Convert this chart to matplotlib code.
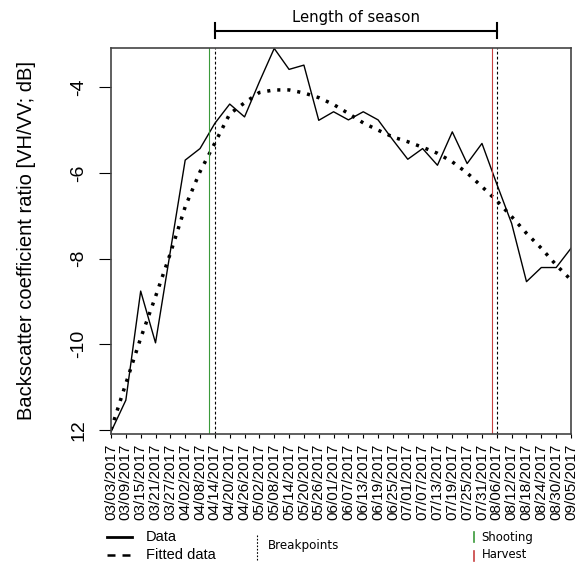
import numpy as np
import pandas as pd
import matplotlib
matplotlib.use('Agg')
import matplotlib.pyplot as plt
from matplotlib.lines import Line2D

# acquisition dates (every 6 days)
dates = pd.date_range('2017-03-03', '2017-09-05', freq='6D')
date_labels = [d.strftime('%m/%d/%Y') for d in dates]

# backscatter ratio VH/VV [dB]
data_vals = [-12.05, -11.31, -8.76, -9.97, -7.83, -5.70, -5.43, -4.84,
             -4.39, -4.69, -3.87, -3.09, -3.58, -3.48, -4.77, -4.57,
             -4.76, -4.57, -4.76, -5.23, -5.68, -5.43, -5.82, -5.04,
             -5.78, -5.31, -6.26, -7.18, -8.54, -8.21, -8.21, -7.76]
# fitted curve
fitted_vals = [-12.0, -10.92, -9.86, -8.89, -7.88, -6.79, -5.97, -5.30,
               -4.62, -4.36, -4.12, -4.06, -4.06, -4.13, -4.24, -4.40,
               -4.61, -4.83, -5.00, -5.16, -5.27, -5.40, -5.54, -5.74,
               -6.00, -6.32, -6.65, -7.02, -7.41, -7.76, -8.15, -8.50]

breakpoints = [pd.Timestamp('2017-04-14'), pd.Timestamp('2017-08-06')]
shooting = pd.Timestamp('2017-04-11 17:00')
harvest = pd.Timestamp('2017-08-03 21:00')

yticks = [-12, -10, -8, -6, -4]
ytick_labels = ['12', '-10', '-8', '-6', '-4']

W, H = 579, 563
fig = plt.figure(figsize=(W / 100, H / 100), dpi=100)
ax = fig.add_axes([111 / W, 1 - 434 / H, 460 / W, 386 / H])

ax.plot(dates, data_vals, color='black', lw=1.0)
ax.plot(dates, fitted_vals, color='black', lw=2.5, linestyle=(0, (0.9, 2.0)))

ax.axvline(shooting, color='#3a9a3a', lw=0.8)
ax.axvline(harvest, color='#c84040', lw=0.8)
for b in breakpoints:
    ax.axvline(b, color='black', lw=0.8, linestyle=(0, (2.5, 2)))

ax.set_xlim(dates[0], dates[-1])
ax.set_ylim(-12.1, -3.08)

ax.set_xticks(dates)
ax.set_xticklabels(date_labels, rotation=90, fontsize=11,
                   family='Liberation Sans', va='top')
ax.tick_params(axis='x', length=3, width=0.8, pad=4)
ax.set_yticks(yticks)
ax.set_yticklabels(ytick_labels, rotation=90, va='center', fontsize=14,
                   family='Liberation Sans')
ax.tick_params(axis='y', length=9, width=0.8, pad=8)
for s in ax.spines.values():
    s.set_color('#444444')
    s.set_linewidth(1.2)

fig.text(27 / W, 1 - 241 / H, 'Backscatter coefficient ratio [VH/VV; dB]',
         rotation=90, ha='center', va='center', fontsize=14.5,
         family='Liberation Sans')

# length of season bracket
tr = ax.get_xaxis_transform()
ax.plot(breakpoints, [1.044, 1.044], color='black', lw=1.5, transform=tr,
        clip_on=False)
for b in breakpoints:
    ax.plot([b, b], [1.026, 1.065], color='black', lw=1.5, transform=tr,
            clip_on=False)
mid = breakpoints[0] + (breakpoints[1] - breakpoints[0]) / 2
ax.text(mid, 1.08, 'Length of season', transform=tr, ha='center',
        va='center', fontsize=10.7, family='DejaVu Sans')

# legend at the bottom
def fx(px):
    return px / W

def fy(py):
    return 1 - py / H

fig.add_artist(Line2D([fx(107), fx(132)], [fy(537), fy(537)], color='black', lw=2.0))
fig.add_artist(Line2D([fx(107), fx(132)], [fy(555), fy(555)], color='black', lw=1.8,
                      linestyle=(0, (3.2, 2.8))))
fig.text(fx(146), fy(537), 'Data', fontsize=10.5, family='Liberation Sans', va='center')
fig.text(fx(146), fy(555), 'Fitted data', fontsize=10.5, family='Liberation Sans',
         va='center')
fig.add_artist(Line2D([fx(257), fx(257)], [fy(535), fy(560)], color='black', lw=0.8,
                      linestyle=(0, (1.5, 1.5))))
fig.text(fx(268), fy(546), 'Breakpoints', fontsize=8.6, family='DejaVu Sans', va='center')
fig.add_artist(Line2D([fx(474), fx(474)], [fy(532), fy(542)], color='#3a9a3a', lw=1.2))
fig.add_artist(Line2D([fx(474), fx(474)], [fy(551), fy(561)], color='#c84040', lw=1.2))
fig.text(fx(481), fy(537), 'Shooting', fontsize=8.4, family='DejaVu Sans', va='center')
fig.text(fx(482), fy(555), 'Harvest', fontsize=8.4, family='DejaVu Sans', va='center')

fig.savefig('out.png', dpi=100)
